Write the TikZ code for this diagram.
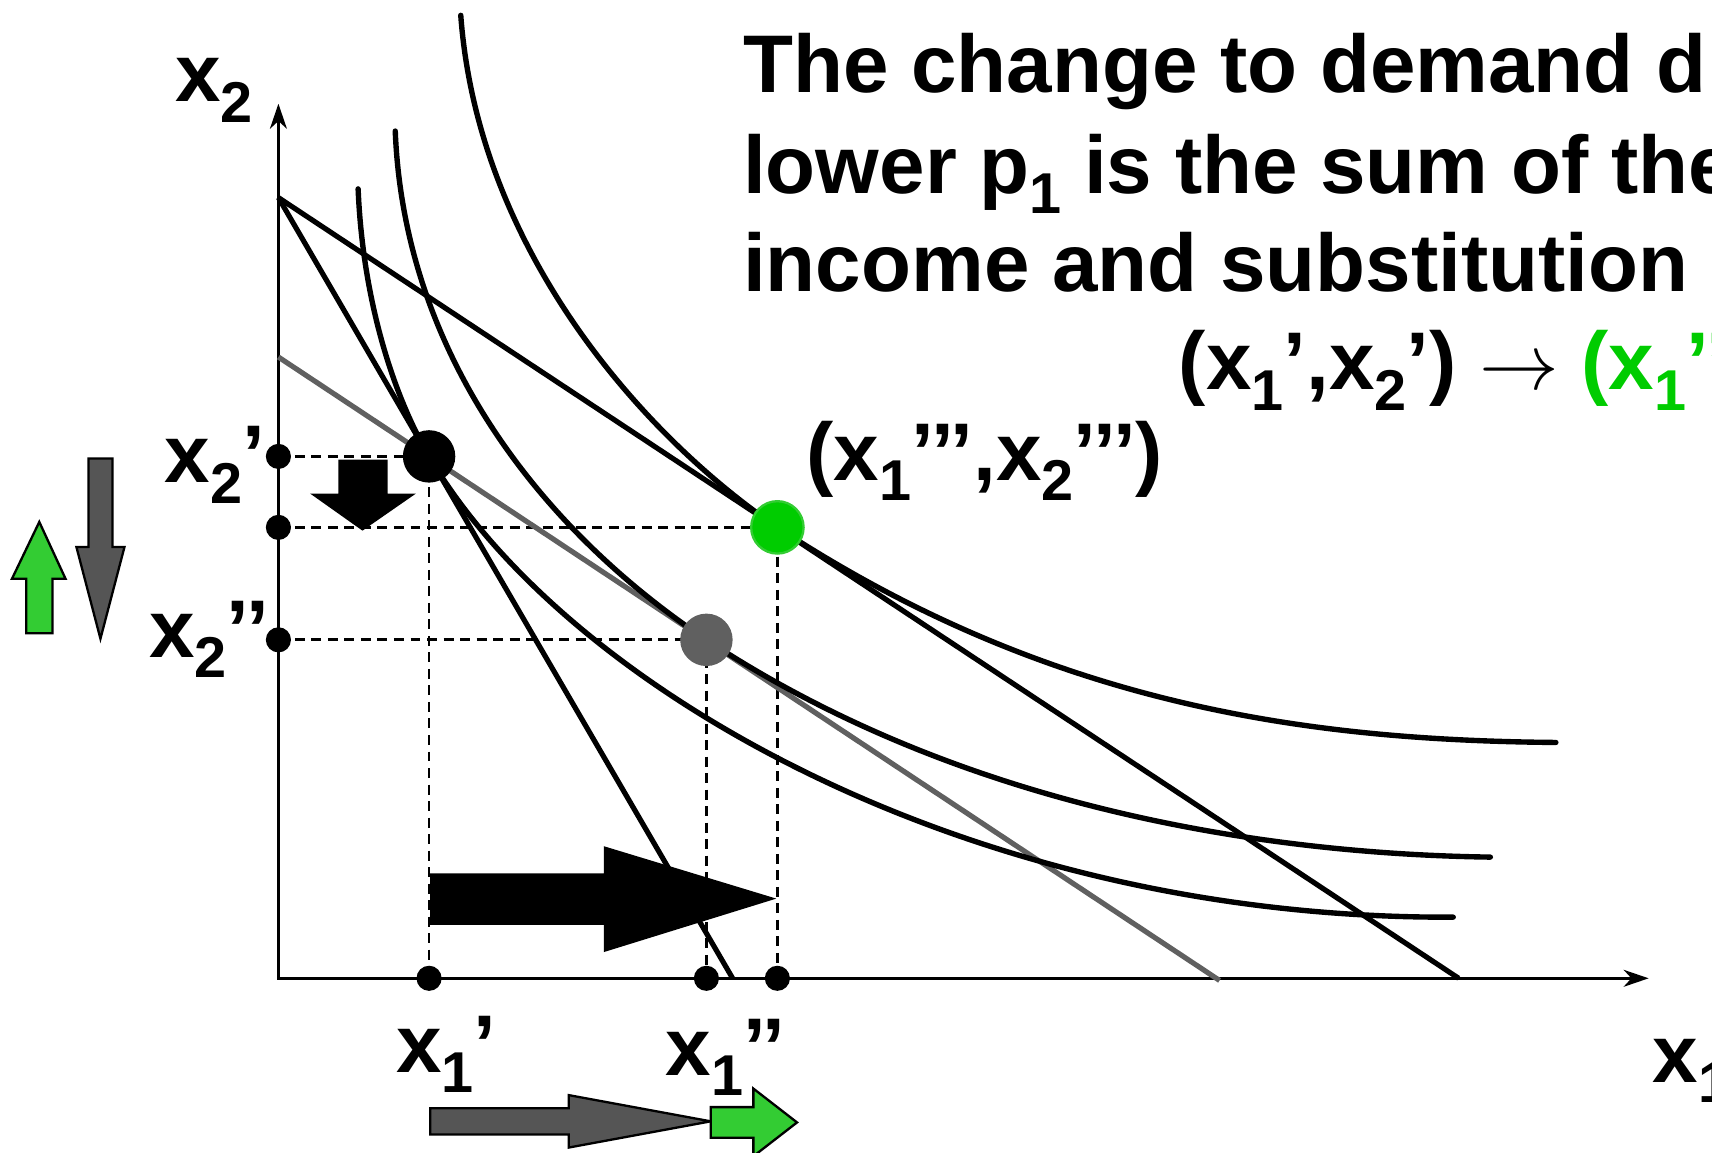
\documentclass[tikz,border=0pt]{standalone}
\usepackage{fontspec}
\setmainfont{Liberation Sans}
\usetikzlibrary{arrows.meta}
\definecolor{dotgreen}{HTML}{00CC00}
\definecolor{arrowgreen}{HTML}{33CC33}
\definecolor{linegray}{HTML}{606060}
\definecolor{arrowgray}{HTML}{555555}
\newcommand\lowsub[1]{\raisebox{-0.25em}{\fontsize{15}{15}\selectfont #1}}

\begin{document}
\begin{tikzpicture}[
    x=0.01cm, y={(0cm,-0.01cm)},
    axis/.style={line width=0.75pt,{Stealth[length=6.5pt,width=4.4pt,inset=2pt]}-{Stealth[length=6.5pt,width=4.4pt,inset=2pt]}},
    budget/.style={line width=1.35pt},
    icurve/.style={line width=1.4pt,line cap=round},
    guide/.style={line width=0.7pt,dash pattern=on 2.6pt off 1.7pt},
    smalldot/.style={circle,fill=black,inner sep=0pt,minimum size=0.23cm},
    bigdot/.style={circle,inner sep=0pt,minimum size=0.48cm},
    lbl/.style={inner sep=0pt,anchor=base west,font=\bfseries\fontsize{21.3}{25.8}\selectfont},
    fatarrow/.style={draw=black,line width=0.6pt}
  ]
  \useasboundingbox (0,0) rectangle (1568,1056);
  \clip (0,0) rectangle (1568,1056);

  % points of the diagram
  \coordinate (O) at (255,896);
  \coordinate (ytop) at (255,95);
  \coordinate (xend) at (1510,896);
  \coordinate (I) at (255,181);
  \coordinate (steepend) at (671,896);
  \coordinate (flatend) at (1336,896);
  \coordinate (compstart) at (255,327);
  \coordinate (compend) at (1117,898);
  \coordinate (A) at (393,418);
  \coordinate (B) at (647,586);
  \coordinate (C) at (712,483);
  \coordinate (ya) at (255,418);
  \coordinate (yc) at (255,483);
  \coordinate (yb) at (255,586);
  \coordinate (xa) at (393,896);
  \coordinate (xb) at (647,896);
  \coordinate (xc) at (712,896);

  % axes
  \draw[axis] (ytop) -- (O) -- (xend);

  % guide lines
  \draw[guide] (ya) -- (A) -- (xa);
  \draw[guide] (yc) -- (C) -- (xc);
  \draw[guide] (yb) -- (B) -- (xb);

  % budget lines
  \draw[budget] (I) -- (steepend);
  \draw[budget] (I) -- (flatend);
  \draw[budget,linegray] (compstart) -- (compend);

  % indifference curves
  \draw[icurve] (328,173) .. controls (332,270) and (358,358) .. (A) .. controls (514,625) and (880,842) .. (1331,840);
  \draw[icurve] (362,120) .. controls (370,320) and (491,482) .. (B) .. controls (876,737) and (1150,782) .. (1365,785);
  \draw[icurve] (422,14) .. controls (438,230) and (590,400) .. (C) .. controls (962,647) and (1200,678) .. (1425,680);

  % bundles
  \node[smalldot] (dya) at (ya) {};
  \node[smalldot] (dyc) at (yc) {};
  \node[smalldot] (dyb) at (yb) {};
  \node[smalldot] (dxa) at (xa) {};
  \node[smalldot] (dxb) at (xb) {};
  \node[smalldot] (dxc) at (xc) {};
  \node[bigdot,fill=black] (dA) at (A) {};
  \node[bigdot,fill=linegray] (dB) at (B) {};
  \node[bigdot,fill=dotgreen,draw=arrowgreen,line width=0.6pt] (dC) at (C) {};

  % block arrows
  \fill (394,800) -- (553,800) -- (553,775) -- (711,823) -- (553,872) -- (553,847) -- (394,847) -- cycle;
  \fill (310,421) -- (355,421) -- (355,452) -- (381,452) -- (332,486) -- (284,452) -- (310,452) -- cycle;
  \filldraw[fatarrow,fill=arrowgray] (394,1015) -- (521,1015) -- (521,1003) -- (651,1027) -- (521,1051) -- (521,1039) -- (394,1039) -- cycle;
  \filldraw[fatarrow,fill=arrowgreen] (651,1014) -- (690,1014) -- (690,997) -- (730,1028) -- (690,1059) -- (690,1042) -- (651,1042) -- cycle;
  \filldraw[fatarrow,fill=arrowgreen] (24,580) -- (24,530) -- (11,530) -- (36,478) -- (60,530) -- (48,530) -- (48,580) -- cycle;
  \filldraw[fatarrow,fill=arrowgray] (81,420) -- (103,420) -- (103,501) -- (114,501) -- (92,585) -- (70,501) -- (81,501) -- cycle;

  % labels
  \node[lbl] (head1) at (680,85) {The change to demand d};
  \node[lbl] (head2) at (680,177) {lower p\lowsub{1} is the sum of the};
  \node[lbl] (head3) at (680,267) {income and substitution};
  \node[lbl] (move) at (1079,357) {(x\lowsub{1}’,x\lowsub{2}’) $\rightarrow$ \textcolor{dotgreen}{(x\lowsub{1}’’}};
  \node[lbl] (newpt) at (738,440) {(x\lowsub{1}’’’,x\lowsub{2}’’’)};
  \node[lbl] (x2lab) at (160,93) {x\lowsub{2}};
  \node[lbl] (x1lab) at (1513,991) {x\lowsub{1}};
  \node[lbl] (x2a) at (150,442) {x\lowsub{2}’};
  \node[lbl] (x2b) at (136,602) {x\lowsub{2}’’};
  \node[lbl] (x1a) at (362,982) {x\lowsub{1}’};
  \node[lbl] (x1b) at (609,985) {x\lowsub{1}’’};
\end{tikzpicture}
\end{document}
